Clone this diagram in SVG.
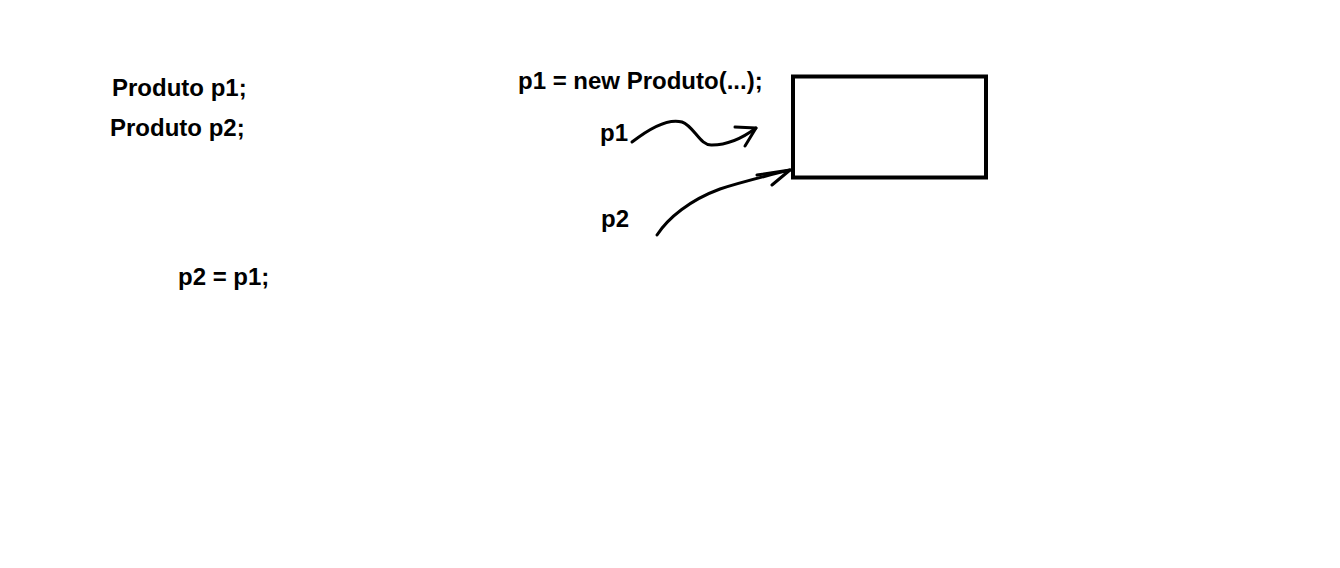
<svg xmlns="http://www.w3.org/2000/svg" width="1340" height="568" viewBox="0 0 1340 568">
<style>
.t{font-family:"Liberation Sans",Arial,sans-serif;font-weight:bold;font-size:24px;fill:#000}
.c{fill:none;stroke:#000;stroke-width:3;stroke-linecap:round;stroke-linejoin:round}
</style>
<rect width="1340" height="568" fill="#fff"/>
<g id="decl1"><text class="t" x="112" y="96">Produto p1;</text></g>
<g id="decl2"><text class="t" x="110" y="136">Produto p2;</text></g>
<g id="assign"><text class="t" x="178" y="285">p2 = p1;</text></g>
<g id="newp"><text class="t" x="518" y="89">p1 = new Produto(...);</text></g>
<g id="p1"><text class="t" x="600" y="141">p1</text></g>
<g id="p2"><text class="t" x="601" y="227">p2</text></g>
<g id="obj"><rect x="793" y="76.5" width="193" height="101" fill="none" stroke="#000" stroke-width="4"/></g>
<g id="connectors">
<path class="c" d="M632,142 C650,128 668,118 682,122 C694,126 700,146 712,145 C724,145 740,140 756,128"/>
<path class="c" d="M735,127 L756,128 L745,146"/>
<path class="c" d="M657,235 C668,218 690,200 720,189 C745,181 770,175 790,170"/>
<path class="c" d="M757,175 L790,170 L772,185"/>
</g>
</svg>
